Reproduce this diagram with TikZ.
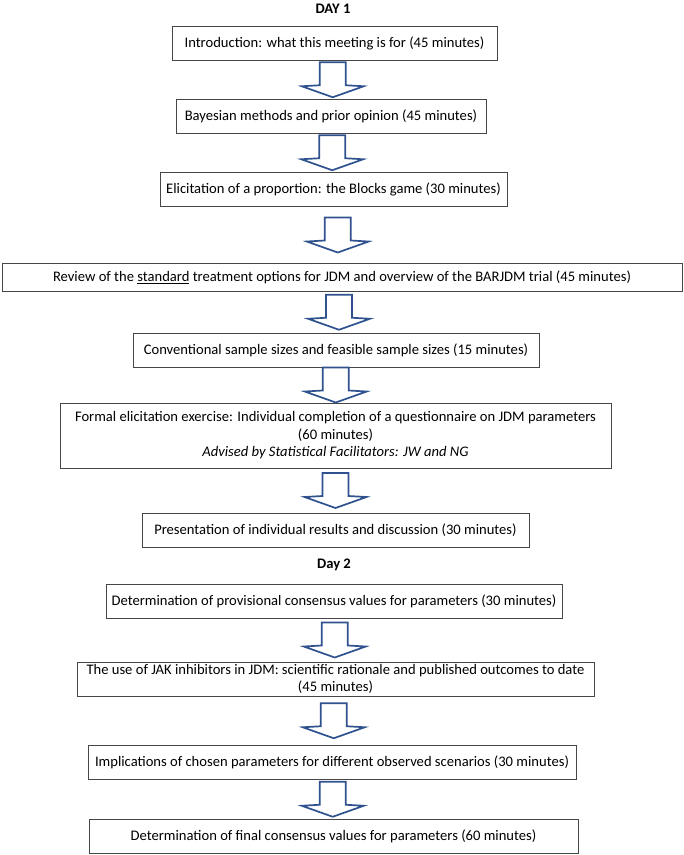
\documentclass[tikz,border=0pt]{standalone}
\usepackage{fontspec}
\setmainfont{Carlito}
\usetikzlibrary{calc}

\definecolor{arrowblue}{RGB}{47,82,143}
\definecolor{boxgray}{RGB}{70,70,70}

\newcommand{\bodysize}{\fontsize{14.6}{17.5}\selectfont}

\tikzstyle{block} = [rectangle, minimum height=34, text centered, align=center, draw=boxgray, line width=0.9pt, inner sep=2pt]
\tikzstyle{heading} = [font=\bodysize\bfseries]
\tikzstyle{arrowbody} = [draw=arrowblue, line width=1.7pt, fill=white]

\newcommand{\blockarrow}[2]{%
  \draw [arrowbody] ($(#1.south)!0.5!(#2.north)$) ++(-13,-17.5) -- ++(0,23) -- ++(-18,1)
    -- ++(31,11) -- ++(31,-11) -- ++(-18,-1) -- ++(0,-23) -- cycle;}

\begin{document}
\begin{tikzpicture}[x=1pt, y=-1pt, font=\bodysize]
\useasboundingbox (0,0) rectangle (684,855);

\node (dayone) [heading] at (333, 9) {DAY 1};
\node (intro) [block, minimum width=325] at (334.5, 43.5) {Introduction: what this meeting is for (45 minutes)};
\node (bayes) [block, minimum width=310] at (331, 116) {Bayesian methods and prior opinion (45 minutes)};
\node (blocks) [block, minimum width=347] at (333.5, 189.5) {Elicitation of a proportion: the Blocks game (30 minutes)};
\node (review) [block, minimum width=680, minimum height=28] at (342, 277.5) {Review of the \underline{standard} treatment options for JDM and overview of the BARJDM trial (45 minutes)};
\node (sizes) [block, minimum width=406] at (336, 350) {Conventional sample sizes and feasible sample sizes (15 minutes)};
\node (formal) [block, minimum width=551, minimum height=65] at (335.5, 435.5) {Formal elicitation exercise: Individual completion of a questionnaire on JDM parameters\\ (60 minutes)\\ \textit{Advised by Statistical Facilitators: JW and NG}};
\node (present) [block, minimum width=387] at (335.5, 530) {Presentation of individual results and discussion (30 minutes)};

\node (daytwo) [heading] at (334, 565) {Day 2};
\node (provis) [block, minimum width=456] at (334, 601) {Determination of provisional consensus values for parameters (30 minutes)};
\node (jak) [block, minimum width=517, inner sep=0pt] at (335.5, 679) {The use of JAK inhibitors in JDM: scientific rationale and published outcomes to date\\ (45 minutes)};
\node (implic) [block, minimum width=488] at (332, 762.5) {Implications of chosen parameters for different observed scenarios (30 minutes)};
\node (final) [block, minimum width=489] at (333.5, 836) {Determination of final consensus values for parameters (60 minutes)};

\blockarrow{intro}{bayes}
\blockarrow{bayes}{blocks}
\blockarrow{blocks}{review}
\blockarrow{review}{sizes}
\blockarrow{sizes}{formal}
\blockarrow{formal}{present}

\blockarrow{provis}{jak}
\blockarrow{jak}{implic}
\blockarrow{implic}{final}
\end{tikzpicture}
\end{document}
